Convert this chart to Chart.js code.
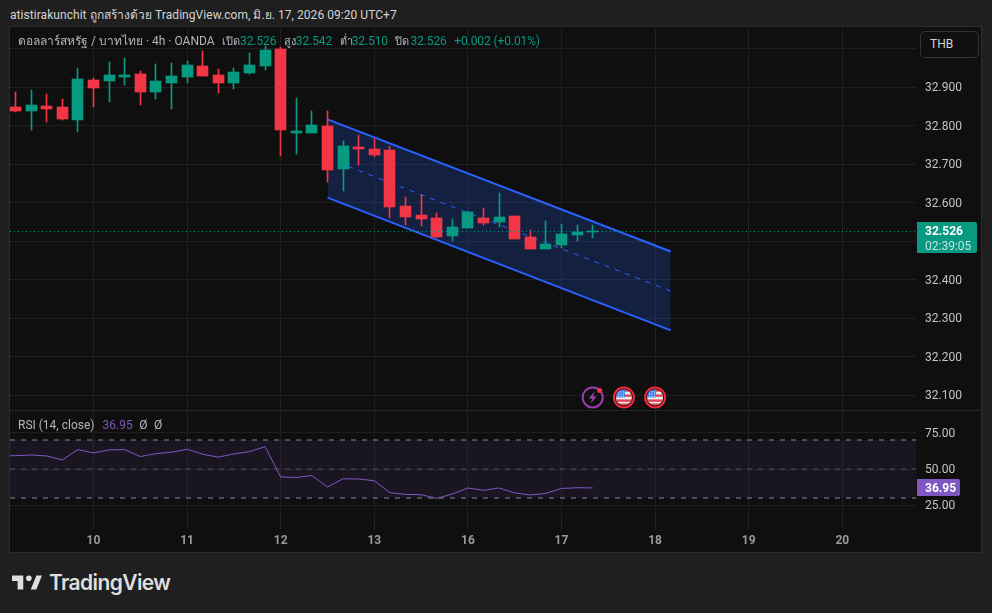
<!DOCTYPE html>
<html>
<head>
<meta charset="utf-8">
<script src="https://cdn.jsdelivr.net/npm/chart.js@4"></script>
<style>
  html, body { margin: 0; padding: 0; width: 992px; height: 613px; overflow: hidden; background: #1f1f1f; }
  body { position: relative; font-family: Roboto, "Noto Sans", sans-serif; }
  #frame { position: absolute; left: 10px; top: 27px; width: 971px; height: 525px; background: #0f0f0f; box-shadow: 0 0 0 1px #2c2c2c; }
  canvas { position: absolute; left: 10px; }
  #chart-main { top: 28px; }
  #chart-rsi { top: 411px; }
  #sep { position: absolute; left: 10px; top: 410px; width: 971px; height: 1px; background: #262626; }
  .txt { position: absolute; white-space: pre; line-height: 16px; }
  #head { left: 10px; top: 7px; font-size: 12px; letter-spacing: 0.05px; color: #d4d4d4; }
  #legend { left: 18px; top: 33px; font-size: 12px; color: #b2b5be; }
  #legend b { display: inline-block; font-weight: normal; font-size: 11px; margin-left: 7.5px; }
  #legend b.up { font-size: 12px; }
  #rsi-legend { left: 18px; top: 417px; font-size: 12px; color: #b2b5be; }
  #rsi-legend b { font-weight: normal; margin-left: 6.5px; }
  .up { color: #089981; letter-spacing: -0.1px; }
  .purple { color: #7e57c2; }
  #thb { position: absolute; left: 920px; top: 31px; width: 57px; height: 25px; border: 1px solid #333; border-radius: 5px; background: #0f0f0f;
         color: #d4d4d4; font-size: 12px; line-height: 25px; text-indent: 9px; }
  #logo { position: absolute; left: 12px; top: 575px; }
  #logo-text { left: 49px; top: 572px; font: 600 21px/22px Inter, Roboto, sans-serif; color: #dedede; letter-spacing: -0.6px; }
</style>
</head>
<body>
<div id="frame"></div>
<canvas id="chart-main" width="972" height="382"></canvas>
<div id="sep"></div>
<canvas id="chart-rsi" width="972" height="141"></canvas>

<div class="txt" id="head">atistirakunchit ถูกสร้างด้วย TradingView.com, มิ.ย. 17, 2026 09:20 UTC+7</div>
<div class="txt" id="legend">ดอลลาร์สหรัฐ / บาทไทย · 4h · OANDA<b style="width:18px">เปิด</b><span class="up">32.526</span><b style="width:12px">สูง</b><span class="up">32.542</span><b style="width:12px">ต่ำ</b><span class="up">32.510</span><b style="width:15px">ปิด</b><span class="up">32.526</span><b class="up">+0.002 (+0.01%)</b></div>
<div class="txt" id="rsi-legend">RSI (14, close)<b class="purple" style="margin-left:8px">36.95</b><b>Ø</b><b>Ø</b></div>
<div id="thb">THB</div>
<svg id="logo" width="30" height="15" viewBox="2 6 32 15"><path fill="#dedede" d="M14 6H2v6h6v9h6V6Zm14 15h-6l6-15h6l-6 15Zm-8-9a3 3 0 1 0 0-6 3 3 0 0 0 0 6Z"/></svg>
<div class="txt" id="logo-text">TradingView</div>

<script>
// 4h candles, oldest first
const opens = [32.849, 32.840, 32.852, 32.849, 32.816, 32.919, 32.917, 32.927, 32.935, 32.889, 32.912, 32.928, 32.956, 32.932, 32.912, 32.938, 32.957, 33.000, 32.782, 32.782, 32.800, 32.689, 32.745, 32.740, 32.738, 32.592, 32.569, 32.561, 32.515, 32.536, 32.561, 32.551, 32.566, 32.512, 32.481, 32.492, 32.518, 32.526];
const highs = [32.888, 32.894, 32.883, 32.870, 32.950, 32.925, 32.966, 32.977, 32.943, 32.961, 32.964, 32.969, 32.995, 32.948, 32.951, 32.990, 33.008, 33.005, 32.873, 32.839, 32.839, 32.761, 32.777, 32.766, 32.748, 32.616, 32.621, 32.574, 32.558, 32.579, 32.587, 32.626, 32.566, 32.530, 32.553, 32.545, 32.543, 32.542];
const lows = [32.837, 32.790, 32.811, 32.816, 32.785, 32.850, 32.861, 32.907, 32.855, 32.870, 32.845, 32.912, 32.930, 32.886, 32.897, 32.935, 32.945, 32.723, 32.728, 32.782, 32.655, 32.632, 32.699, 32.720, 32.562, 32.544, 32.541, 32.509, 32.502, 32.536, 32.544, 32.538, 32.507, 32.481, 32.481, 32.484, 32.500, 32.510];
const closes = [32.840, 32.855, 32.844, 32.819, 32.922, 32.899, 32.932, 32.932, 32.889, 32.917, 32.930, 32.958, 32.930, 32.912, 32.940, 32.958, 32.997, 32.790, 32.787, 32.803, 32.686, 32.748, 32.740, 32.725, 32.590, 32.564, 32.559, 32.512, 32.538, 32.577, 32.549, 32.564, 32.507, 32.481, 32.494, 32.519, 32.525, 32.526];

// rsi starts one bar earlier than the candles, the line runs off the left edge
const rsiValues = [59.0, 59.2, 59.7, 59.0, 56.3, 63.4, 61.1, 63.2, 63.4, 58.6, 60.6, 61.6, 63.6, 60.2, 58.2, 60.4, 62.0, 65.4, 44.5, 44.2, 45.5, 37.6, 43.3, 43.1, 41.9, 33.7, 32.5, 32.3, 29.8, 32.8, 36.9, 35.3, 36.9, 33.5, 32.1, 33.2, 36.6, 37.1, 36.95];

const dayBars = [5, 11, 17, 23, 29, 35, 41, 47, 53];
const dayLabels = ['10', '11', '12', '13', '16', '17', '18', '19', '20'];
const priceTicks = [32.1, 32.2, 32.3, 32.4, 32.5, 32.6, 32.7, 32.8, 32.9, 33.0];
const rsiTicks = [25, 50, 75];

// parallel channel: [bar, price] at each end
const channelBars = [20, 42];
const channelUpper = [32.817, 32.474];
const channelLower = [32.614, 32.269];
const channelMiddle = [32.7155, 32.3715];

const eventBars = [37, 39, 41];
const eventPrice = 32.095;
const lastPrice = 32.526;
const countdown = '02:39:05';
const lastRsi = 36.95;

const UP = '#089981', DOWN = '#f23645', BLUE = '#2962ff', PURPLE = '#7e57c2';
const GRID = '#1f1f1f', TEXT = '#c4c4c4';
const FONT = 'Roboto, "Noto Sans", sans-serif';
const X_MIN = -0.3526, X_MAX = 57.724;
const AXIS_W = 66;

const candleColors = closes.map((c, i) => c >= opens[i] ? UP : DOWN);

function span(values){ return [{x: X_MIN, y: values}, {x: X_MAX, y: values}]; }
function segment(values){ return channelBars.map((b, i) => ({x: b, y: values[i]})); }

// keep candles on whole pixels so wicks stay 1px wide
const snapBars = {
  id: 'snapBars',
  afterDatasetsUpdate(chart){
    chart.data.datasets.forEach((ds, i) => {
      if (ds.type !== 'bar') return;
      for (const el of chart.getDatasetMeta(i).data){
        el.x = Math.round(el.x - 0.5) + 0.5;
        el.y = Math.round(el.y);
        el.base = Math.round(el.base);
        if (el.base === el.y) el.base = el.y + 1;
      }
    });
  }
};

function priceTag(value, color, w, h, lines){
  return {
    id: 'priceTag',
    afterDraw(chart){
      const {ctx, chartArea} = chart;
      const y = Math.round(chart.scales.y.getPixelForValue(value));
      const x = chartArea.right + 1;
      ctx.save();
      ctx.fillStyle = color;
      ctx.beginPath();
      ctx.roundRect(x, y - 9, w, h, [0, 2, 2, 0]);
      ctx.fill();
      ctx.textBaseline = 'middle';
      ctx.textAlign = 'left';
      lines.forEach((l, i) => {
        ctx.font = `${l.weight} 12px ${FONT}`;
        ctx.fillStyle = l.color;
        ctx.fillText(l.text, x + 8, y + 1 + i * 15);
      });
      ctx.restore();
    }
  };
}

function drawBolt(ctx, x, y){
  ctx.strokeStyle = '#9c3dad';
  ctx.lineWidth = 2;
  ctx.beginPath(); ctx.arc(x, y, 10, 0, Math.PI * 2); ctx.stroke();
  ctx.fillStyle = '#9c3dad';
  ctx.beginPath();
  ctx.moveTo(x + 2, y - 6); ctx.lineTo(x - 4, y + 1); ctx.lineTo(x - 0.5, y + 1);
  ctx.lineTo(x - 2, y + 6); ctx.lineTo(x + 4, y - 1); ctx.lineTo(x + 0.5, y - 1);
  ctx.closePath(); ctx.fill();
  ctx.fillStyle = '#f23645';
  ctx.beginPath(); ctx.arc(x + 7, y - 7, 2.5, 0, Math.PI * 2); ctx.fill();
}

function drawFlag(ctx, x, y){
  ctx.strokeStyle = '#f7283a';
  ctx.lineWidth = 2;
  ctx.beginPath(); ctx.arc(x, y, 10, 0, Math.PI * 2); ctx.stroke();
  ctx.save();
  ctx.beginPath(); ctx.arc(x, y, 8, 0, Math.PI * 2); ctx.clip();
  ctx.fillStyle = '#f0f0f0';
  ctx.fillRect(x - 8, y - 8, 16, 16);
  ctx.fillStyle = '#e8404f';
  for (const dy of [-8, -3, 2, 6]) ctx.fillRect(x - 8, y + dy, 16, 2.4);
  ctx.fillStyle = '#3c7ff0';
  ctx.fillRect(x - 8, y - 8, 9, 8);
  ctx.fillStyle = '#e8f0ff';
  for (let i = 0; i < 3; i++) for (let j = 0; j < 3; j++) ctx.fillRect(x - 6 + i * 2.5, y - 6 + j * 2.2, 1, 1);
  ctx.restore();
}

const eventIcons = {
  id: 'eventIcons',
  afterDraw(chart){
    const {ctx, scales} = chart;
    const y = scales.y.getPixelForValue(eventPrice);
    ctx.save();
    eventBars.forEach((b, i) => {
      const x = scales.x.getPixelForValue(b);
      if (i === 0) drawBolt(ctx, x, y); else drawFlag(ctx, x, y);
    });
    ctx.restore();
  }
};

function xAxis(withLabels){
  return {
    type: 'linear', min: X_MIN, max: X_MAX, offset: false,
    afterBuildTicks: s => { s.ticks = dayBars.map(v => ({value: v})); },
    afterFit: s => { s.height = withLabels ? 27 : 0; s.paddingLeft = 0; s.paddingRight = 0; },
    grid: {color: GRID, offset: false, drawTicks: withLabels, tickLength: 4, tickColor: '#2a2a2a'},
    border: {display: false},
    ticks: {
      display: withLabels, autoSkip: false, maxRotation: 0, padding: 5, color: '#9a9a9a',
      font: {family: FONT, size: 12, weight: 'bold'},
      callback: (v, i) => dayLabels[i]
    }
  };
}

function yAxis(min, max, tickValues, label){
  return {
    position: 'right', min, max,
    afterBuildTicks: s => { s.ticks = tickValues.map(v => ({value: v})); },
    // no room reserved for half a label above and below the pane
    afterFit: s => { s.width = AXIS_W; s.paddingTop = 0; s.paddingBottom = 0; },
    grid: {color: GRID, drawTicks: false},
    border: {display: false},
    ticks: {autoSkip: false, padding: 9, labelOffset: 1, color: TEXT, font: {family: FONT, size: 12}, callback: label}
  };
}

const baseOptions = {
  responsive: false, animation: false, events: [],
  layout: {padding: 0},
  plugins: {legend: {display: false}, tooltip: {enabled: false}}
};

const mainChart = new Chart(document.getElementById('chart-main'), {
  type: 'line',
  data: {
    datasets: [
      {type: 'line', data: span(lastPrice), borderColor: UP, borderWidth: 1, borderDash: [1, 3], pointRadius: 0, order: 0},
      {type: 'bar', data: closes.map((c, i) => ({x: i, y: [opens[i], c]})), backgroundColor: candleColors, barThickness: 11, grouped: false, order: 1},
      {type: 'bar', data: closes.map((c, i) => ({x: i, y: [lows[i], highs[i]]})), backgroundColor: candleColors, barThickness: 1, grouped: false, order: 2},
      {type: 'line', data: segment(channelMiddle), borderColor: BLUE, borderWidth: 1, borderDash: [5, 6], pointRadius: 0, order: 3},
      {type: 'line', data: segment(channelUpper), borderColor: BLUE, borderWidth: 2, pointRadius: 0, fill: '+1', backgroundColor: 'rgba(41,98,255,0.2)', order: 4},
      {type: 'line', data: segment(channelLower), borderColor: BLUE, borderWidth: 2, pointRadius: 0, order: 5}
    ]
  },
  options: {
    ...baseOptions,
    scales: {
      x: xAxis(false),
      y: yAxis(32.0623, 33.0545, priceTicks, v => v >= 33 ? '' : v.toFixed(3))
    }
  },
  plugins: [snapBars, eventIcons, priceTag(lastPrice, UP, 60, 31, [
    {text: lastPrice.toFixed(3), weight: 'bold', color: '#ffffff'},
    {text: countdown, weight: 'normal', color: 'rgba(255,255,255,0.75)'}
  ])]
});

const rsiChart = new Chart(document.getElementById('chart-rsi'), {
  type: 'line',
  data: {
    datasets: [
      {data: rsiValues.map((v, i) => ({x: i - 1, y: v})), borderColor: PURPLE, borderWidth: 1, pointRadius: 0, order: 0},
      {data: span(50), borderColor: 'rgba(120,123,134,0.55)', borderWidth: 1, borderDash: [5, 6], pointRadius: 0, order: 1},
      {data: span(70), borderColor: '#8a8d96', borderWidth: 1, borderDash: [5, 6], pointRadius: 0, fill: '+1', backgroundColor: 'rgba(126,87,194,0.1)', order: 2},
      {data: span(30), borderColor: '#8a8d96', borderWidth: 1, borderDash: [5, 6], pointRadius: 0, order: 3}
    ]
  },
  options: {
    ...baseOptions,
    scales: {
      x: xAxis(true),
      y: yAxis(11.4, 90, rsiTicks, v => v.toFixed(2))
    }
  },
  plugins: [priceTag(lastRsi, PURPLE, 43, 17, [{text: lastRsi.toFixed(2), weight: 'bold', color: '#ffffff'}])]
});
</script>
</body>
</html>
